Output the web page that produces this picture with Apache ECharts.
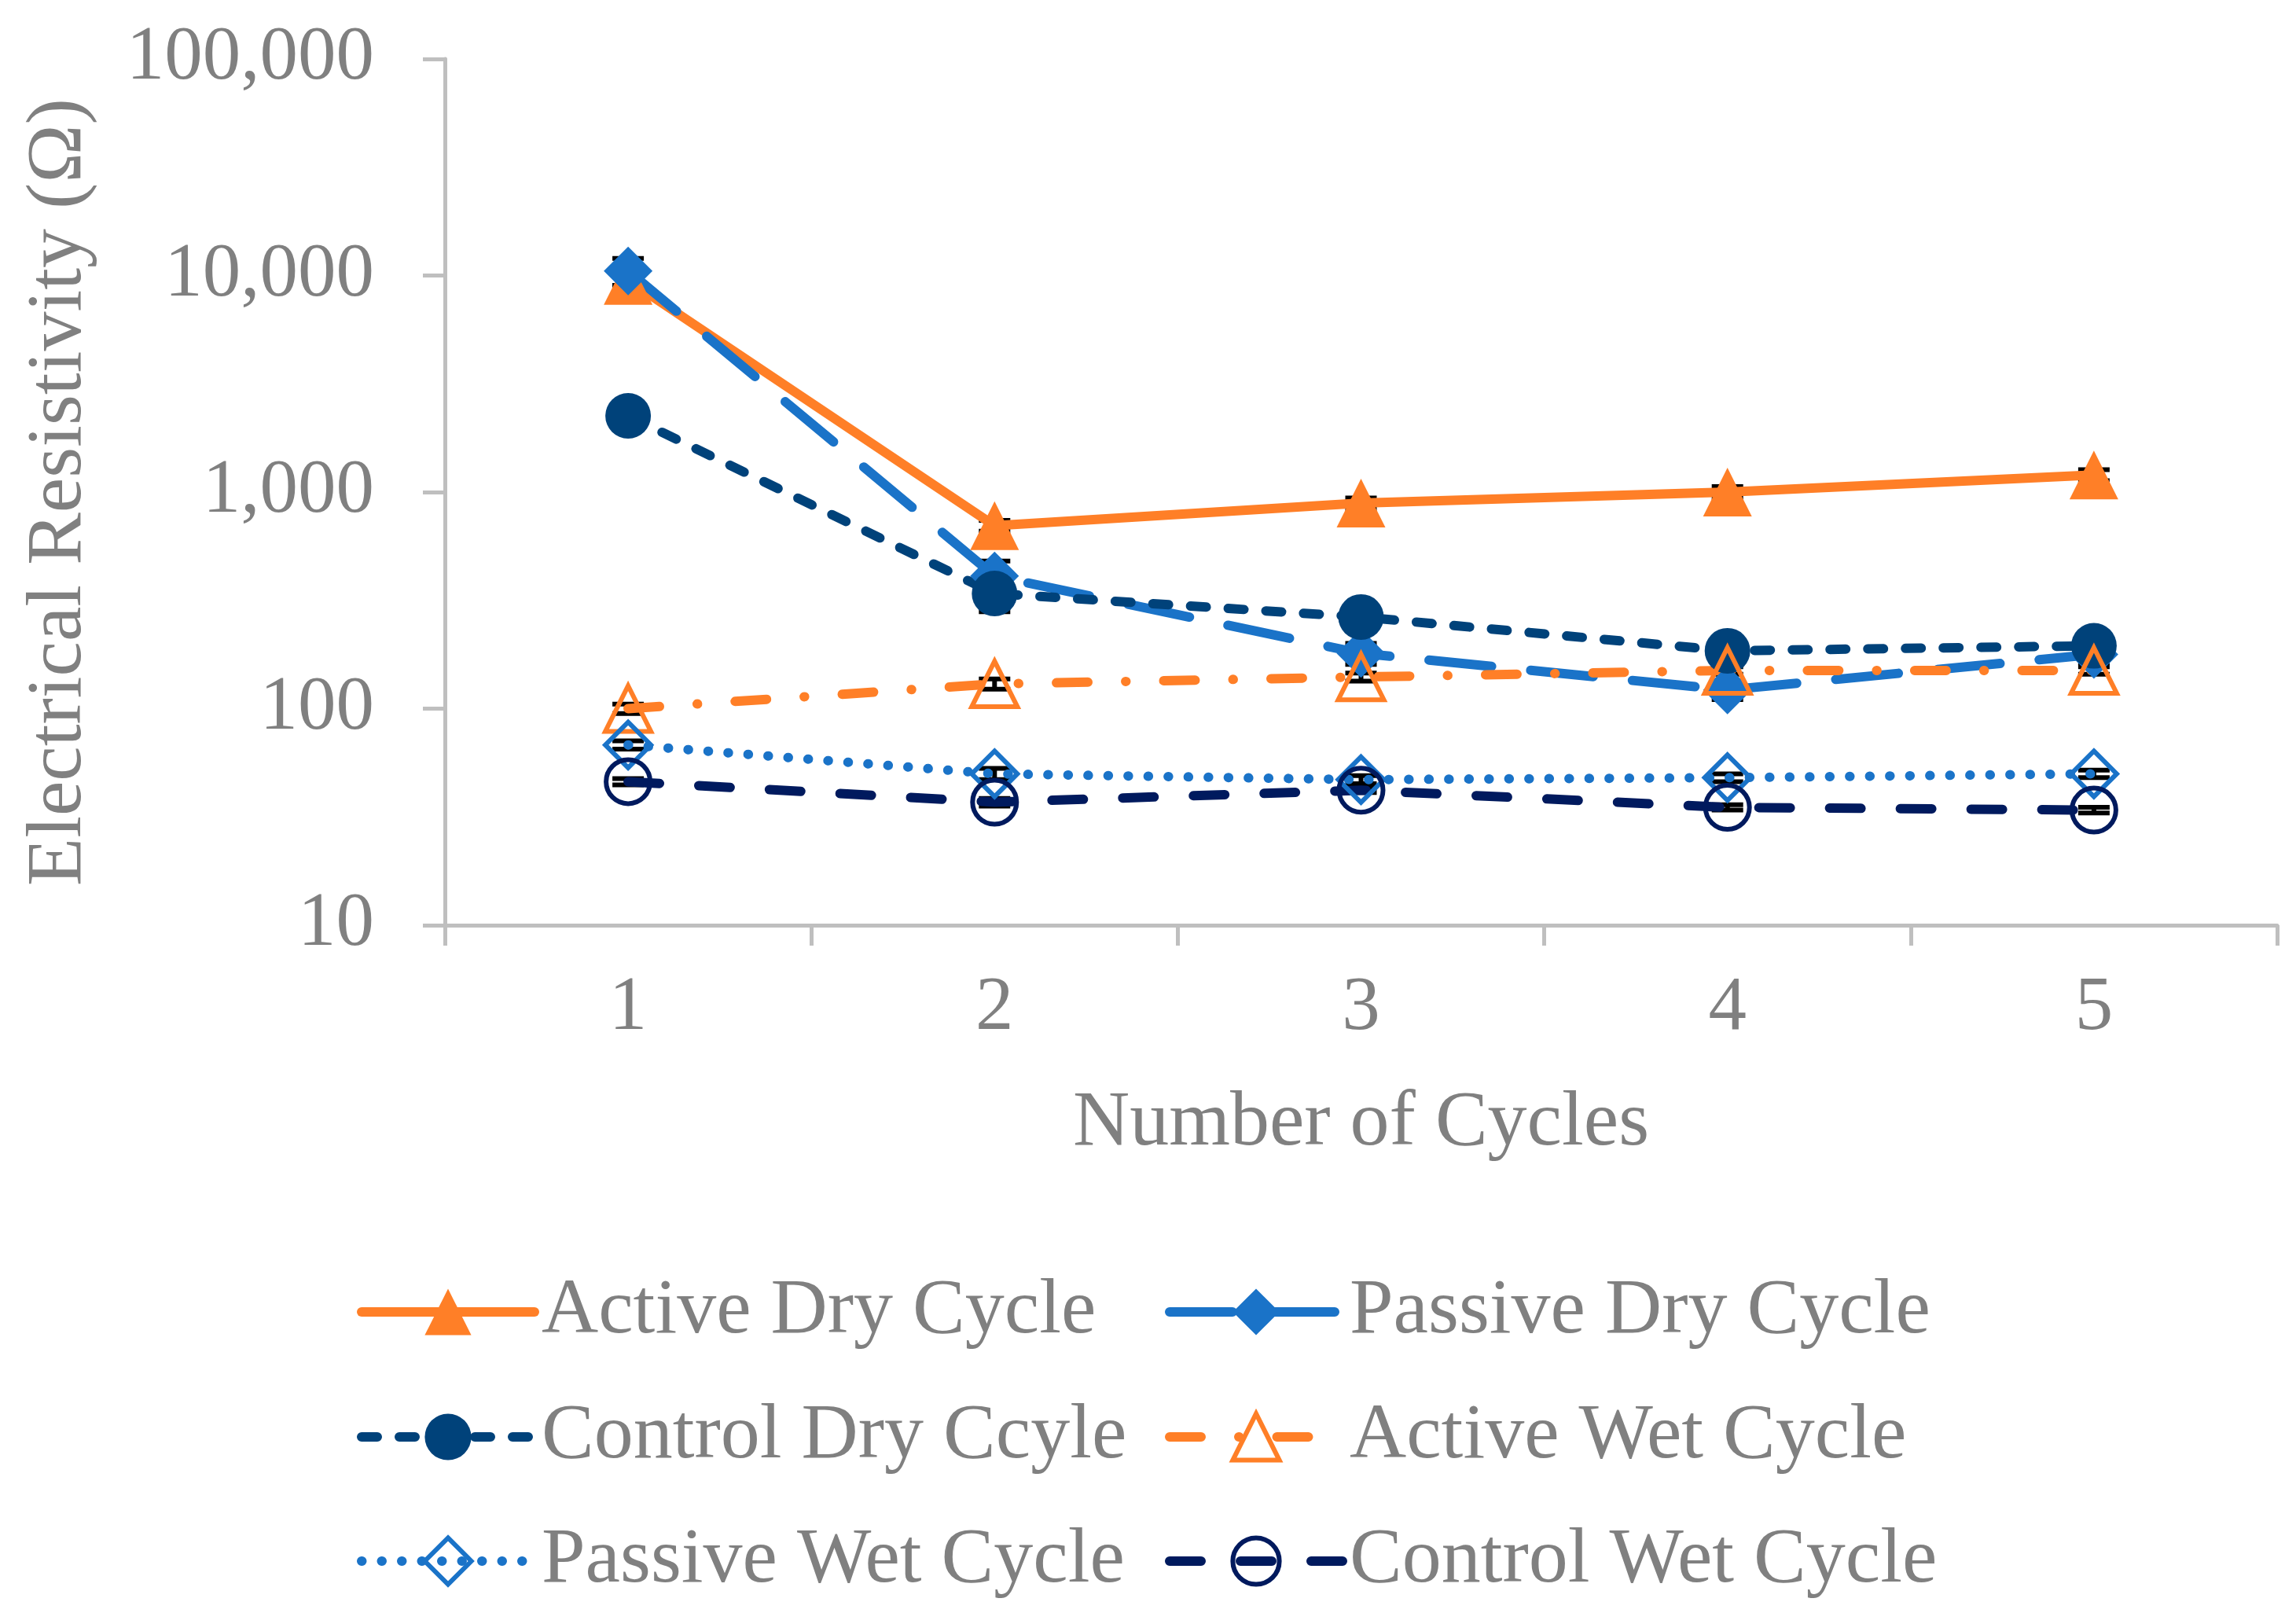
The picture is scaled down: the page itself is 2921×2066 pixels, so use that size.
<!DOCTYPE html>
<html>
<head>
<meta charset="utf-8">
<script src="https://cdn.jsdelivr.net/npm/echarts@6/dist/echarts.min.js"></script>
<style>html,body{margin:0;padding:0;background:#fff;}#c{width:2921px;height:2066px;}</style>
</head>
<body>
<div id="c"></div>
<script>
const categories = ['1', '2', '3', '4', '5'];
const seriesNames = ['Active Dry Cycle', 'Passive Dry Cycle', 'Control Dry Ccyle', 'Active Wet Cycle', 'Passive Wet Cycle', 'Control Wet Cycle'];
const activeDry  = [9500, 700, 890, 1000, 1200];
const passiveDry = [10500, 410, 180, 122, 178];
const controlDry = [2250, 340, 265, 185, 195];
const activeWet  = [100, 130, 140, 150, 150];
const passiveWet = [68, 50, 47, 48, 50];
const controlWet = [46, 37, 42, 35, 34];
// estimated error (+/-)
const activeDryErr  = [500, 40, 50, 60, 70];
const passiveDryErr = [1500, 70, 20, 12, 15];
const controlDryErr = [200, 60, 20, 15, 12];
const activeWetErr  = [5, 7, 6, 6, 6];
const passiveWetErr = [3, 3, 2, 2, 2];
const controlWetErr = [1.5, 1.5, 1, 1, 1];
const yTicks = [10, 100, 1000, 10000, 100000];

const FONT = 'Liberation Serif';
const GRAY = '#808080';
const AXIS = '#BFBFBF';
const ORANGE = '#FF7F27';
const BLUE = '#1A73C8';
const DBLUE = '#00427A';
const NAVY = '#001A5E';
const LW = 12;

const styles = [
  { color: ORANGE, dash: 'solid', symbol: 'triangle', hollow: false, size: 62 },
  { color: BLUE, dash: [80, 50], symbol: 'diamond', hollow: false, size: 62 },
  { color: DBLUE, dash: [20, 28], symbol: 'circle', hollow: false, size: 58 },
  { color: ORANGE, dash: [40, 48, 0.5, 48], symbol: 'triangle', hollow: true, size: 58 },
  { color: BLUE, dash: [0.5, 25], symbol: 'diamond', hollow: true, size: 58 },
  { color: NAVY, dash: [40, 50], symbol: 'circle', hollow: true, size: 56 }
];
const dataSets = [activeDry, passiveDry, controlDry, activeWet, passiveWet, controlWet];
const errSets = [activeDryErr, passiveDryErr, controlDryErr, activeWetErr, passiveWetErr, controlWetErr];

function itemStyleFor(s) {
  return s.hollow
    ? { color: 'rgba(255,255,255,0)', borderColor: s.color, borderWidth: 6 }
    : { color: s.color, borderColor: s.color, borderWidth: 0 };
}

function errSeries(vals, errs) {
  return {
    type: 'custom',
    z: 1,
    silent: true,
    data: vals.map((v, i) => [i, v, v - errs[i], v + errs[i]]),
    renderItem: function (params, api) {
      const x = api.value(0);
      const lo = api.coord([x, api.value(2)]);
      const hi = api.coord([x, api.value(3)]);
      const hw = 20;
      const st = { stroke: '#000', lineWidth: 6 };
      return {
        type: 'group',
        children: [
          { type: 'line', shape: { x1: lo[0], y1: lo[1], x2: hi[0], y2: hi[1] }, style: st },
          { type: 'line', shape: { x1: lo[0] - hw, y1: lo[1], x2: lo[0] + hw, y2: lo[1] }, style: st },
          { type: 'line', shape: { x1: hi[0] - hw, y1: hi[1], x2: hi[0] + hw, y2: hi[1] }, style: st }
        ]
      };
    }
  };
}

function lineSeries(i) {
  const s = styles[i];
  return {
    name: seriesNames[i],
    type: 'line',
    data: dataSets[i],
    z: 3,
    symbol: s.symbol,
    symbolSize: s.size,
    showAllSymbol: true,
    lineStyle: { color: s.color, width: LW, type: s.dash, cap: 'round', join: 'round' },
    itemStyle: itemStyleFor(s),
    emphasis: { disabled: true }
  };
}

const legendPos = [
  [449, 1651], [1477, 1651],
  [449, 1810], [1477, 1810],
  [449, 1968], [1477, 1968]
];
const legendItemH = 74;
const legends = seriesNames.map((name, i) => {
  const s = styles[i];
  return {
    orient: 'horizontal',
    left: legendPos[i][0],
    top: legendPos[i][1] - legendItemH / 2,
    itemWidth: 220,
    itemHeight: legendItemH,
    selectedMode: false,
    data: [{
      name: name,
      lineStyle: { color: s.color, width: LW, type: s.dash, cap: 'round' },
      itemStyle: itemStyleFor(s)
    }],
    textStyle: { fontFamily: FONT, fontSize: 100, color: GRAY, lineHeight: legendItemH, padding: [0, 0, 0, 4] }
  };
});

const chart = echarts.init(document.getElementById('c'));
const option = {
  backgroundColor: '#FFFFFF',
  animation: false,
  grid: { left: 566, right: 24, top: 75, bottom: 889 },
  legend: legends,
  xAxis: {
    type: 'category',
    data: categories,
    boundaryGap: true,
    axisLine: { lineStyle: { color: AXIS, width: 5 } },
    axisTick: { show: true, length: 26, lineStyle: { color: AXIS, width: 5 } },
    axisLabel: { fontFamily: FONT, fontSize: 97, color: GRAY, margin: 58 },
    name: 'Number of Cycles',
    nameLocation: 'middle',
    nameGap: 203,
    nameTextStyle: { fontFamily: FONT, fontSize: 100, color: GRAY }
  },
  yAxis: {
    type: 'log',
    logBase: 10,
    min: yTicks[0],
    max: yTicks[yTicks.length - 1],
    axisLine: { show: true, lineStyle: { color: AXIS, width: 5 } },
    axisTick: { show: true, length: 28, lineStyle: { color: AXIS, width: 5 } },
    splitLine: { show: false },
    axisLabel: {
      fontFamily: FONT, fontSize: 97, color: GRAY, margin: 90,
      formatter: v => Math.round(v).toLocaleString('en-US')
    },
    name: 'Electrical Resistivity (Ω)',
    nameLocation: 'middle',
    nameGap: 440,
    nameTextStyle: { fontFamily: FONT, fontSize: 100, color: GRAY }
  },
  series: errSets.map((e, i) => errSeries(dataSets[i], e)).concat(seriesNames.map((n, i) => lineSeries(i)))
};
chart.setOption(option);
</script>
</body>
</html>
